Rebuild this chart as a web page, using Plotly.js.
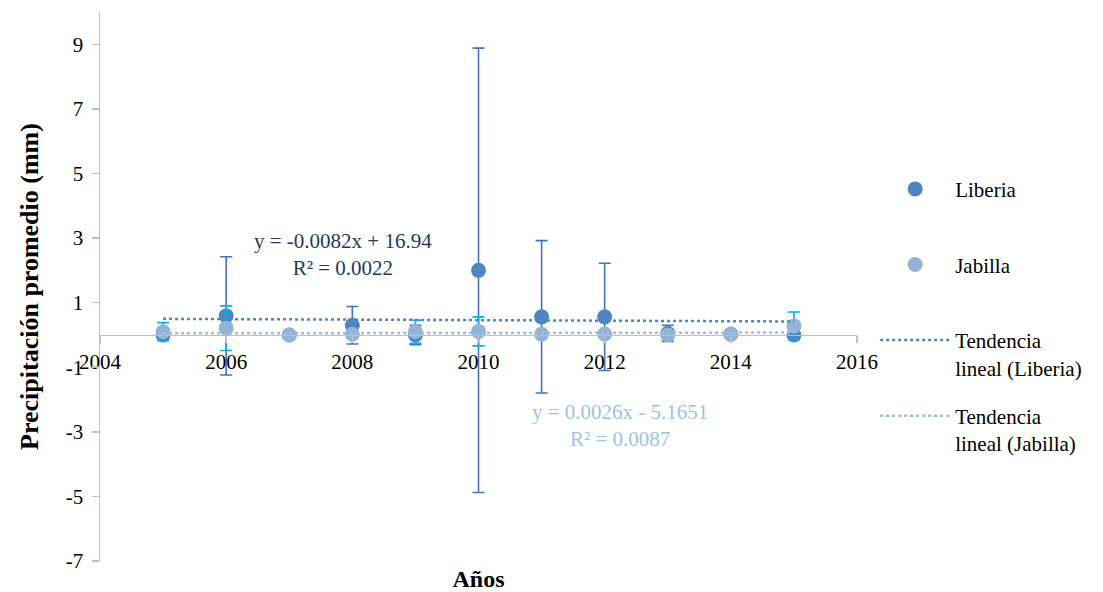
<!DOCTYPE html>
<html>
<head>
<meta charset="utf-8">
<script src="https://cdn.plot.ly/plotly-3.0.1.min.js"></script>
<style>
  html, body { margin: 0; padding: 0; background: #ffffff; }
  #chart { width: 1103px; height: 592px; }
</style>
</head>
<body>
<div id="chart"></div>
<script>
// Average precipitation per year for two stations, with error bars and linear trends
const years = [2005, 2006, 2007, 2008, 2009, 2010, 2011, 2012, 2013, 2014, 2015];

const liberia    = [0.00, 0.59, 0.00, 0.30, 0.00, 2.00, 0.56, 0.56, 0.05, 0.02, 0.00];
const liberiaErr = [0.10, 1.83, 0.05, 0.58, 0.30, 6.88, 2.36, 1.66, 0.25, 0.05, 0.10];

const jabilla    = [0.10, 0.21, 0.00, 0.02, 0.10, 0.11, 0.02, 0.03, 0.00, 0.03, 0.28];
const jabillaErr = [0.28, 0.69, 0.03, 0.03, 0.36, 0.45, 0.03, 0.03, 0.05, 0.03, 0.43];

// Linear trend coefficients (slope, intercept) and R²
const liberiaTrend = { slope: -0.0082, intercept: 16.94, r2: '0.0022' };
const jabillaTrend = { slope: 0.0026, intercept: -5.1651, r2: '0.0087' };
const trendYears = [2005, 2015];

const yTicks = [-7, -5, -3, -1, 1, 3, 5, 7, 9];
const xTicks = [2004, 2006, 2008, 2010, 2012, 2014, 2016];

const serif = '"Liberation Serif", "Times New Roman", serif';
const cLiberia = '#4F86C0';
const cJabilla = '#95B3D7';

function trendLine(t) {
  return trendYears.map(x => t.slope * x + t.intercept);
}

// every legend entry spans two lines so the entries sit evenly spaced
const traces = [
  {
    type: 'scatter', mode: 'markers', name: 'Liberia<br> ', legendgroup: 'a',
    x: years, y: liberia,
    marker: { color: cLiberia, size: 15 },
    error_y: { type: 'data', array: liberiaErr, visible: true, color: '#4472C4', thickness: 1.6, width: 6 }
  },
  {
    type: 'scatter', mode: 'markers', name: 'Jabilla<br> ', legendgroup: 'b',
    x: years, y: jabilla,
    marker: { color: cJabilla, size: 15 },
    error_y: { type: 'data', array: jabillaErr, visible: true, color: '#00B0F0', thickness: 1.6, width: 6 }
  },
  {
    type: 'scatter', mode: 'lines', name: 'Tendencia<br>lineal (Liberia)', legendgroup: 'c',
    x: trendYears, y: trendLine(liberiaTrend),
    line: { color: cLiberia, width: 2.5, dash: 'dot' }
  },
  {
    type: 'scatter', mode: 'lines', name: 'Tendencia<br>lineal (Jabilla)', legendgroup: 'd',
    x: trendYears, y: trendLine(jabillaTrend),
    line: { color: '#9DBBE0', width: 2.5, dash: 'dot' }
  }
];

function fmtEq(t) {
  const sign = t.intercept < 0 ? ' - ' : ' + ';
  return 'y = ' + t.slope + 'x' + sign + Math.abs(t.intercept) + '<br>R² = ' + t.r2;
}

const layout = {
  width: 1103, height: 592,
  margin: { l: 100, r: 246, t: 12, b: 31 },
  paper_bgcolor: '#ffffff', plot_bgcolor: '#ffffff',
  font: { family: serif, size: 21, color: '#000000' },
  showlegend: true,
  legend: {
    x: 1.024, xanchor: 'left', y: 0.7145, yanchor: 'top',
    bgcolor: 'rgba(0,0,0,0)',
    font: { family: serif, size: 21, color: '#000000' },
    tracegroupgap: 18, valign: 'top', itemwidth: 70
  },
  xaxis: {
    range: [2004, 2016], tickvals: xTicks, ticktext: xTicks.map(String),
    anchor: 'free', position: 7 / 17,
    showline: true, linecolor: '#BFBFBF', linewidth: 1.5,
    ticks: 'outside', ticklen: 7, tickcolor: '#BFBFBF', tickwidth: 1.5,
    showgrid: false, zeroline: false,
    tickfont: { family: serif, size: 21, color: '#000000' },
    title: { text: '<b>Años</b>', font: { family: serif, size: 24, color: '#000000' }, standoff: 199 }
  },
  yaxis: {
    range: [-7, 10], tickvals: yTicks, ticktext: yTicks.map(String),
    showline: true, linecolor: '#BFBFBF', linewidth: 1.5,
    ticks: 'outside', ticklen: 7, tickcolor: '#BFBFBF', tickwidth: 1.5,
    ticklabelstandoff: 4,
    showgrid: false, zeroline: false,
    tickfont: { family: serif, size: 21, color: '#000000' },
    title: { text: '<b>Precipitación promedio (mm)</b>', font: { family: serif, size: 26, color: '#000000' }, standoff: 19 }
  },
  annotations: [
    {
      x: 2007.85, y: 2.5, xref: 'x', yref: 'y', showarrow: false, align: 'center',
      text: fmtEq(liberiaTrend),
      font: { family: serif, size: 21, color: '#1F3864' }
    },
    {
      x: 2012.25, y: -2.8, xref: 'x', yref: 'y', showarrow: false, align: 'center',
      text: fmtEq(jabillaTrend),
      font: { family: serif, size: 21, color: '#9DC3E6' }
    }
  ]
};

Plotly.newPlot('chart', traces, layout, { displayModeBar: false, staticPlot: true });
</script>
</body>
</html>
